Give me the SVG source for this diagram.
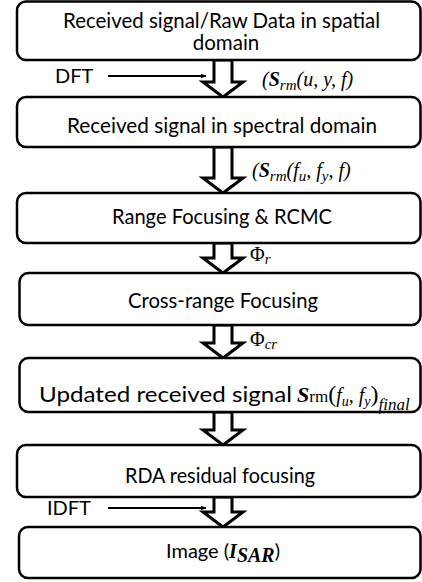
<svg xmlns="http://www.w3.org/2000/svg" width="422" height="582" viewBox="0 0 422 582">
<style>
.box{fill:#fff;stroke:#000;stroke-width:2.5}
.t{font-family:Lato,"Liberation Sans",sans-serif;font-size:20.5px;fill:#000}
.lab{font-family:Lato,"Liberation Sans",sans-serif;font-size:20px;fill:#000}
.m{font-family:"Liberation Serif",serif;font-size:20px;fill:#000;font-style:italic}
.blk{fill:#fff;stroke:#000;stroke-width:3;stroke-linejoin:miter}
.ln{stroke:#000;stroke-width:2;fill:none}
</style>
<defs>
<marker id="ah" viewBox="0 0 10 10" refX="10" refY="5" markerWidth="5" markerHeight="5" orient="auto" markerUnits="userSpaceOnUse"><path d="M0,0 L10,5 L0,10 z" fill="#000"/></marker>
</defs>
<rect width="422" height="582" fill="#fff"/>
<g id="connectors">
<polygon class="blk" points="214,60 214,82 203,82 223,97 243,82 232,82 232,60"/>
<polygon class="blk" points="214,147 214,178 203,178 223,193 243,178 232,178 232,147"/>
<polygon class="blk" points="214,243 214,258 203,258 223,273 243,258 232,258 232,243"/>
<polygon class="blk" points="214,325 214,343 203,343 223,358 243,343 232,343 232,325"/>
<polygon class="blk" points="214,412 214,430 203,430 223,445 243,430 232,430 232,412"/>
<polygon class="blk" points="214,497 214,512 203,512 223,527 243,512 232,512 232,497"/>
<line class="ln" x1="108" y1="76" x2="206" y2="76" marker-end="url(#ah)"/>
<line class="ln" x1="108" y1="508" x2="206" y2="508" marker-end="url(#ah)"/>
<text class="lab" x="55" y="83">DFT</text>
<text class="lab" x="47" y="515">IDFT</text>
<text class="m" x="262" y="86">(<tspan font-weight="bold">S</tspan><tspan font-size="15" dy="4">rm</tspan><tspan dy="-4">(u, y, f)</tspan></text>
<text class="m" x="252" y="177">(<tspan font-weight="bold">S</tspan><tspan font-size="15" dy="4">rm</tspan><tspan dy="-4">(f</tspan><tspan font-size="15" dy="4">u</tspan><tspan dy="-4">, f</tspan><tspan font-size="15" dy="4">y</tspan><tspan dy="-4">, f)</tspan></text>
<text class="m" x="250" y="261"><tspan font-style="normal">Φ</tspan><tspan font-size="15" dy="3">r</tspan></text>
<text class="m" x="250" y="346"><tspan font-style="normal">Φ</tspan><tspan font-size="15" dy="3">cr</tspan></text>
</g>
<g id="n1"><rect class="box" x="17" y="1.5" width="403.5" height="58.5" rx="9"/>
<text class="t" x="63" y="28" textLength="317" lengthAdjust="spacingAndGlyphs">Received signal/Raw Data in spatial</text>
<text class="t" x="226" y="50" text-anchor="middle">domain</text></g>
<g id="n2"><rect class="box" x="17" y="97" width="403.5" height="50" rx="9"/>
<text class="t" x="67" y="133" textLength="310" lengthAdjust="spacingAndGlyphs">Received signal in spectral domain</text></g>
<g id="n3"><rect class="box" x="17" y="193" width="403.5" height="50" rx="9"/>
<text class="t" x="112" y="224" textLength="220" lengthAdjust="spacingAndGlyphs">Range Focusing &amp; RCMC</text></g>
<g id="n4"><rect class="box" x="19.5" y="273" width="401" height="52" rx="9"/>
<text class="t" x="128" y="308" textLength="190" lengthAdjust="spacingAndGlyphs">Cross-range Focusing</text></g>
<g id="n5"><rect class="box" x="19.5" y="358" width="401" height="54" rx="9"/>
<text class="t" x="39" y="402" font-size="22" textLength="253" lengthAdjust="spacingAndGlyphs">Updated received signal</text>
<text class="m" x="297" y="402"><tspan font-weight="bold" font-size="22">S</tspan><tspan font-style="normal" font-size="17">rm</tspan><tspan font-style="normal" font-size="24">(</tspan><tspan font-size="20">f</tspan><tspan font-size="14" dy="4">u</tspan><tspan font-size="20" dy="-4">, f</tspan><tspan font-size="14" dy="4">y</tspan><tspan font-style="normal" font-size="24" dy="-4">)</tspan><tspan font-size="17" dy="8">final</tspan></text></g>
<g id="n6"><rect class="box" x="17" y="445" width="403.5" height="52" rx="9"/>
<text class="t" x="125" y="483" textLength="190" lengthAdjust="spacingAndGlyphs">RDA residual focusing</text></g>
<g id="n7"><rect class="box" x="19" y="527" width="401.5" height="51" rx="9"/>
<text class="lab" x="166" y="558" font-size="20.5">Image (<tspan class="m" font-weight="bold" font-size="21">I</tspan><tspan class="m" font-weight="bold" font-size="16" dy="4">SAR</tspan><tspan dy="-4">)</tspan></text></g>
</svg>
